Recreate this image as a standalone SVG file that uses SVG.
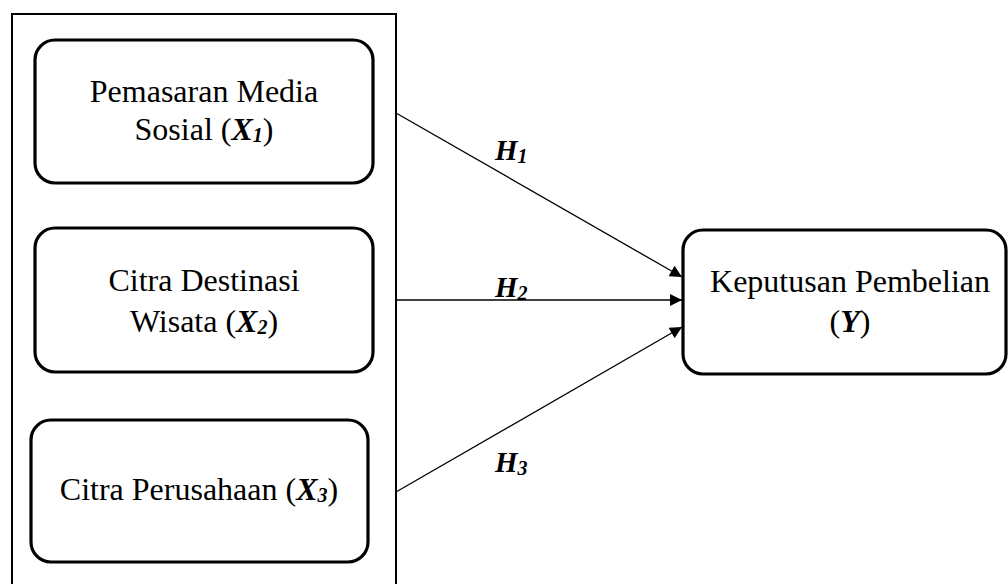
<svg xmlns="http://www.w3.org/2000/svg" width="1008" height="584" viewBox="0 0 1008 584">
<style>
.box{fill:#fff;stroke:#000;stroke-width:3.2}
.t{font-family:"Liberation Serif","Times New Roman",serif;font-size:32px;fill:#000;text-anchor:middle}
.h{font-family:"Liberation Serif","Times New Roman",serif;font-size:29px;font-weight:bold;font-style:italic;fill:#000}
.bi{font-weight:bold;font-style:italic}
.sub{font-size:20px}
.c{stroke:#000;stroke-width:1.3;fill:none}
</style>
<defs>
<marker id="ah" viewBox="0 0 10 10" refX="10" refY="5" markerWidth="14" markerHeight="12" markerUnits="userSpaceOnUse" orient="auto">
<path d="M0,0 L10,5 L0,10 Z" fill="#000"/>
</marker>
</defs>
<rect id="outer" x="12" y="14" width="384" height="590" fill="none" stroke="#000" stroke-width="2"/>
<g id="x1">
<rect class="box" x="35" y="40" width="338" height="143" rx="20"/>
<text class="t" x="204" y="102">Pemasaran Media</text>
<text class="t" x="204" y="140">Sosial (<tspan class="bi">X</tspan><tspan class="bi sub" dy="2">1</tspan><tspan dy="-2">)</tspan></text>
</g>
<g id="x2">
<rect class="box" x="35" y="228" width="338" height="144" rx="20"/>
<text class="t" x="204" y="291">Citra Destinasi</text>
<text class="t" x="204" y="332">Wisata (<tspan class="bi">X</tspan><tspan class="bi sub" dy="2">2</tspan><tspan dy="-2">)</tspan></text>
</g>
<g id="x3">
<rect class="box" x="31" y="420" width="337" height="142" rx="20"/>
<text class="t" x="199" y="500">Citra Perusahaan (<tspan class="bi">X</tspan><tspan class="bi sub" dy="2">3</tspan><tspan dy="-2">)</tspan></text>
</g>
<g id="y">
<rect class="box" x="683" y="230" width="323" height="144" rx="20"/>
<text class="t" x="850" y="292">Keputusan Pembelian</text>
<text class="t" x="850" y="332">(<tspan class="bi">Y</tspan>)</text>
</g>
<g id="connectors">
<line class="c" x1="396" y1="113" x2="682" y2="277" marker-end="url(#ah)"/>
<line class="c" x1="396" y1="300" x2="682" y2="300" marker-end="url(#ah)"/>
<line class="c" x1="396" y1="492" x2="682" y2="327" marker-end="url(#ah)"/>
</g>
<g id="labels">
<text class="h" x="495" y="160">H<tspan class="sub" dy="3">1</tspan></text>
<text class="h" x="495" y="297">H<tspan class="sub" dy="3">2</tspan></text>
<text class="h" x="495" y="472">H<tspan class="sub" dy="3">3</tspan></text>
</g>
</svg>
